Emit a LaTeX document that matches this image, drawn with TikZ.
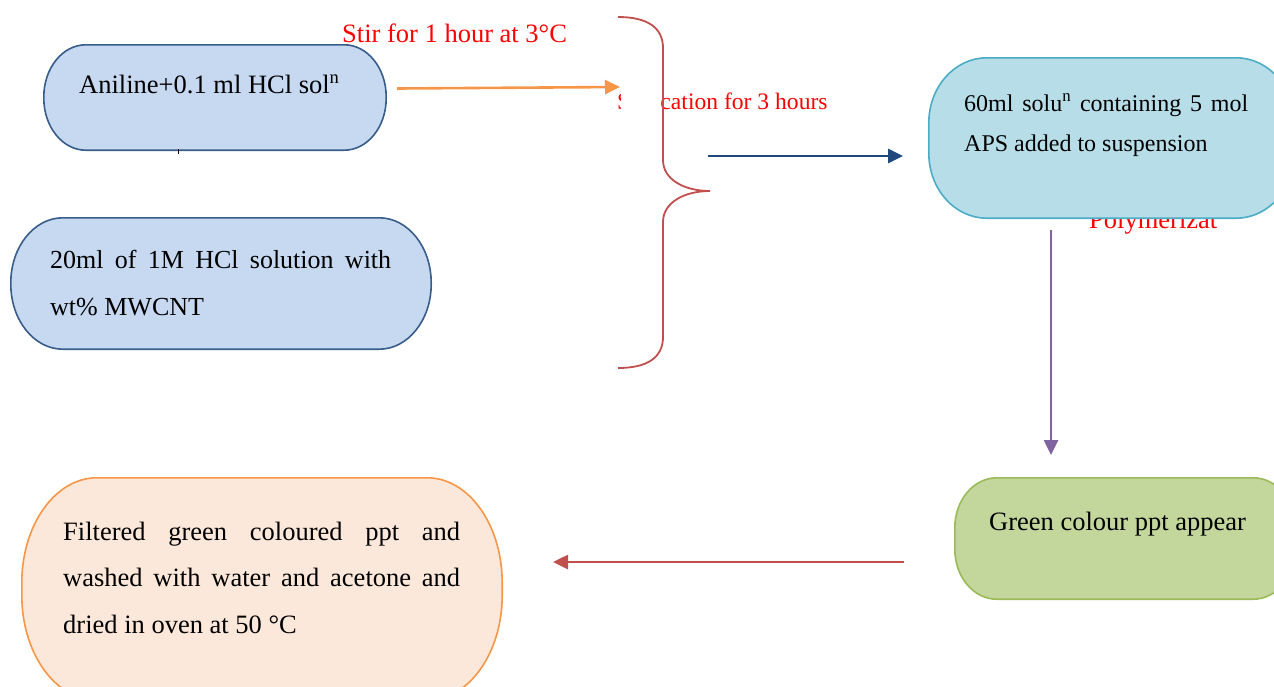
\documentclass[tikz,border=0pt]{standalone}
\usepackage{fontspec}
\setmainfont{Liberation Serif}
\usetikzlibrary{arrows.meta}
\definecolor{bluefill}{HTML}{C6D9F1}
\definecolor{bluedraw}{HTML}{385D8A}
\definecolor{cyanfill}{HTML}{B7DEE8}
\definecolor{cyandraw}{HTML}{4BACC6}
\definecolor{greenfill}{HTML}{C3D69B}
\definecolor{greendraw}{HTML}{9BBB59}
\definecolor{peachfill}{HTML}{FCE8DA}
\definecolor{orangeline}{HTML}{F79646}
\definecolor{navyline}{HTML}{1F497D}
\definecolor{purpleline}{HTML}{8064A2}
\definecolor{redline}{HTML}{C0504D}
\definecolor{labelred}{HTML}{FF0000}
\tikzset{
  slot/.style={draw=none, inner sep=0pt},
  outline/.style={line width=1.6pt},
  txt/.style={inner sep=0pt, anchor=base west, font=\fontsize{26.5}{30}\selectfont},
  lbl/.style={txt, text=labelred},
  conn/.style={line width=2.6pt, -{Triangle[length=15pt,width=14pt]}},
  bracepath/.style={draw=redline, line width=1.8pt},
}
% #1 node name, #2 x radius, #3 y radius, #4 draw colour, #5 fill colour
\newcommand\ovalshape[5]{%
  \path[outline, draw=#4, fill=#5]
    ([xshift=#2]#1.north west) -- ([xshift=-#2]#1.north east)
    arc[start angle=90, end angle=0, x radius=#2, y radius=#3]
    -- ([yshift=#3]#1.south east)
    arc[start angle=0, end angle=-90, x radius=#2, y radius=#3]
    -- ([xshift=#2]#1.south west)
    arc[start angle=270, end angle=180, x radius=#2, y radius=#3]
    -- ([yshift=-#3]#1.north west)
    arc[start angle=180, end angle=90, x radius=#2, y radius=#3] -- cycle;}
\begin{document}
\begin{tikzpicture}[x=1pt,y=-1pt]
\useasboundingbox (0,0) rectangle (1274,686);
\clip (0,0) rectangle (1274,686);

% red labels (behind)
\node[lbl] (stir) at (342,42) {Stir for 1 hour at 3°C};
\node[lbl, font=\fontsize{23.6}{28}\selectfont] (soni) at (617,109) {Sonication for 3 hours};
\fill[white] (620.5,84) rectangle (661,116);
\node[lbl] (poly) at (1089,228) {Polymerizat};

% boxes
\node[slot, minimum width=342pt, minimum height=105pt] (n1) at (215,97.5) {};
\node[slot, minimum width=420pt, minimum height=131pt] (n2) at (221,283.5) {};
\node[slot, minimum width=365pt, minimum height=160pt] (n3) at (1111.5,138) {};
\node[slot, minimum width=340pt, minimum height=121pt] (n4) at (1125,538.5) {};
\node[slot, minimum width=480pt, minimum height=222pt] (n5) at (262,589) {};
\ovalshape{n1}{42pt}{52pt}{bluedraw}{bluefill}
\ovalshape{n2}{52pt}{65pt}{bluedraw}{bluefill}
\ovalshape{n3}{58pt}{65pt}{cyandraw}{cyanfill}
\ovalshape{n4}{42pt}{50pt}{greendraw}{greenfill}
\ovalshape{n5}{75pt}{105pt}{orangeline}{peachfill}

% texts
\node[txt] (t1) at (79,93) {Aniline+0.1 ml HCl sol\textsuperscript{n}};
\node[txt] (t2) at (50,268) {\parbox[t]{341pt}{\fontsize{26}{47}\selectfont 20ml of 1M HCl solution with\linebreak wt\% MWCNT}};
\node[txt] (t3) at (964,111) {\parbox[t]{284pt}{\fontsize{24}{40}\selectfont 60ml solu\textsuperscript{n} containing 5 mol\linebreak APS added to suspension}};
\node[txt] (t4) at (989,530) {Green colour ppt appear};
\node[txt] (t5) at (63,540) {\parbox[t]{397pt}{\fontsize{26.5}{46.5}\selectfont Filtered green coloured ppt and\linebreak washed with water and acetone and\linebreak dried in oven at 50 °C}};

% small tick under first box
\draw[line width=0.8pt] (178,149) -- (178,154);

% brace
\coordinate (btop) at (618,17);
\coordinate (btip) at (710,191);
\coordinate (bbot) at (618,368);
\draw[bracepath] (btop) .. controls (648,17) and (663,28) .. (663,48) -- (663,160)
  .. controls (663,180) and (685,191) .. (btip)
  .. controls (685,191) and (663,202) .. (663,222) -- (663,337)
  .. controls (663,357) and (648,368) .. (bbot);

% connectors
\coordinate (a1s) at (397,88.5);
\coordinate (a1e) at (620,87);
\coordinate (a2s) at (708,156);
\coordinate (a2e) at (903,156);
\coordinate (a3s) at (1051,230);
\coordinate (a3e) at (1051,455);
\coordinate (a4s) at (904,562);
\coordinate (a4e) at (553,562);
\draw[conn, draw=orangeline, fill=orangeline] (a1s) -- (a1e);
\draw[conn, draw=navyline, fill=navyline] (a2s) -- (a2e);
\draw[conn, draw=purpleline, fill=purpleline] (a3s) -- (a3e);
\draw[conn, draw=redline, fill=redline] (a4s) -- (a4e);
\end{tikzpicture}
\end{document}
